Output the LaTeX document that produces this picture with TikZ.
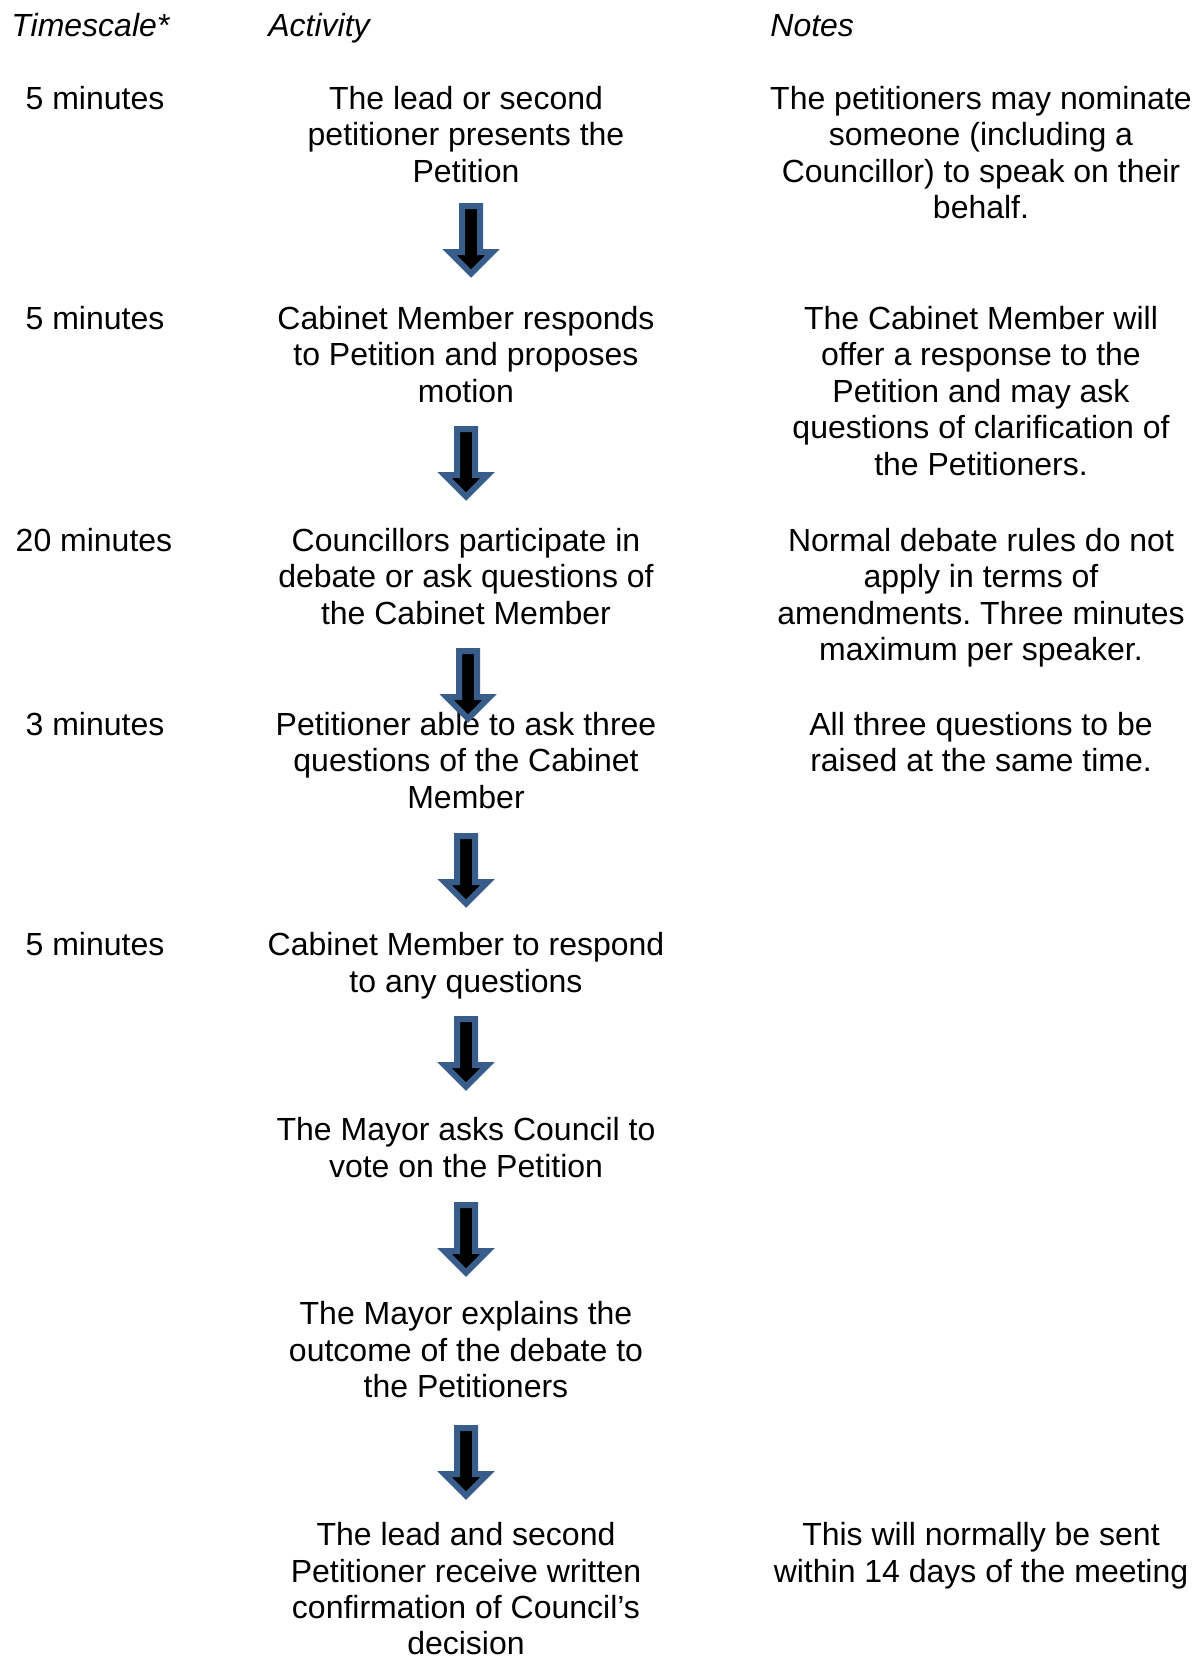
\documentclass[tikz,border=0pt]{standalone}
\usepackage{fontspec}
\setmainfont{Liberation Sans}
\frenchspacing
\definecolor{arrowblue}{RGB}{56,93,138}

\begin{document}
\begin{tikzpicture}[x=0.5pt,y=-0.5pt,
  every node/.style={font=\fontsize{16}{18.2}\selectfont, inner sep=0pt},
  head/.style={anchor=base west, font=\fontsize{16}{18.2}\selectfont\itshape},
  cell/.style={anchor=north, align=center},
  arrowline/.style={draw=arrowblue, fill=black, line width=3pt},
  downarrow/.pic={\path[arrowline] (-9,0) -- (9,0) -- (9,46) -- (21.5,46) -- (0,67.5) -- (-21.5,46) -- (-9,46) -- cycle;}]
\useasboundingbox (0,0) rectangle (1200,1660);

\node[head] (headtime) at (11,36) {Timescale*};
\node[head] (headact) at (268,36) {Activity};
\node[head] (headnote) at (770,36) {Notes};

\node[cell] (time1) at (95,86) {5 minutes};
\node[cell] (act1) at (466,86) {The lead or second\\petitioner presents the\\Petition};
\node[cell] (note1) at (981,86) {The petitioners may nominate\\someone (including a\\Councillor) to speak on their\\behalf.};
\pic (arr1) at (471,206) {downarrow};

\node[cell] (time2) at (95,306) {5 minutes};
\node[cell] (act2) at (466,306) {Cabinet Member responds\\to Petition and proposes\\motion};
\node[cell] (note2) at (981,306) {The Cabinet Member will\\offer a response to the\\Petition and may ask\\questions of clarification of\\the Petitioners.};
\pic (arr2) at (466,429) {downarrow};

\node[cell] (time3) at (94,528) {20 minutes};
\node[cell] (act3) at (466,528) {Councillors participate in\\debate or ask questions of\\the Cabinet Member};
\node[cell] (note3) at (981,528) {Normal debate rules do not\\apply in terms of\\amendments. Three minutes\\maximum per speaker.};

\node[cell] (time4) at (95,712) {3 minutes};
\node[cell] (act4) at (466,712) {Petitioner able to ask three\\questions of the Cabinet\\Member};
\node[cell] (note4) at (981,712) {All three questions to be\\raised at the same time.};
\pic (arr3) at (468,651) {downarrow};
\pic (arr4) at (466,836) {downarrow};

\node[cell] (time5) at (95,932) {5 minutes};
\node[cell] (act5) at (466,932) {Cabinet Member to respond\\to any questions};
\pic (arr5) at (466,1019) {downarrow};

\node[cell] (act6) at (466,1117) {The Mayor asks Council to\\vote on the Petition};
\pic (arr6) at (466,1205) {downarrow};

\node[cell] (act7) at (466,1301) {The Mayor explains the\\outcome of the debate to\\the Petitioners};
\pic (arr7) at (466,1428) {downarrow};

\node[cell] (act8) at (466,1522) {The lead and second\\Petitioner receive written\\confirmation of Council’s\\decision};
\node[cell] (note8) at (981,1522) {This will normally be sent\\within 14 days of the meeting};
\end{tikzpicture}
\end{document}
